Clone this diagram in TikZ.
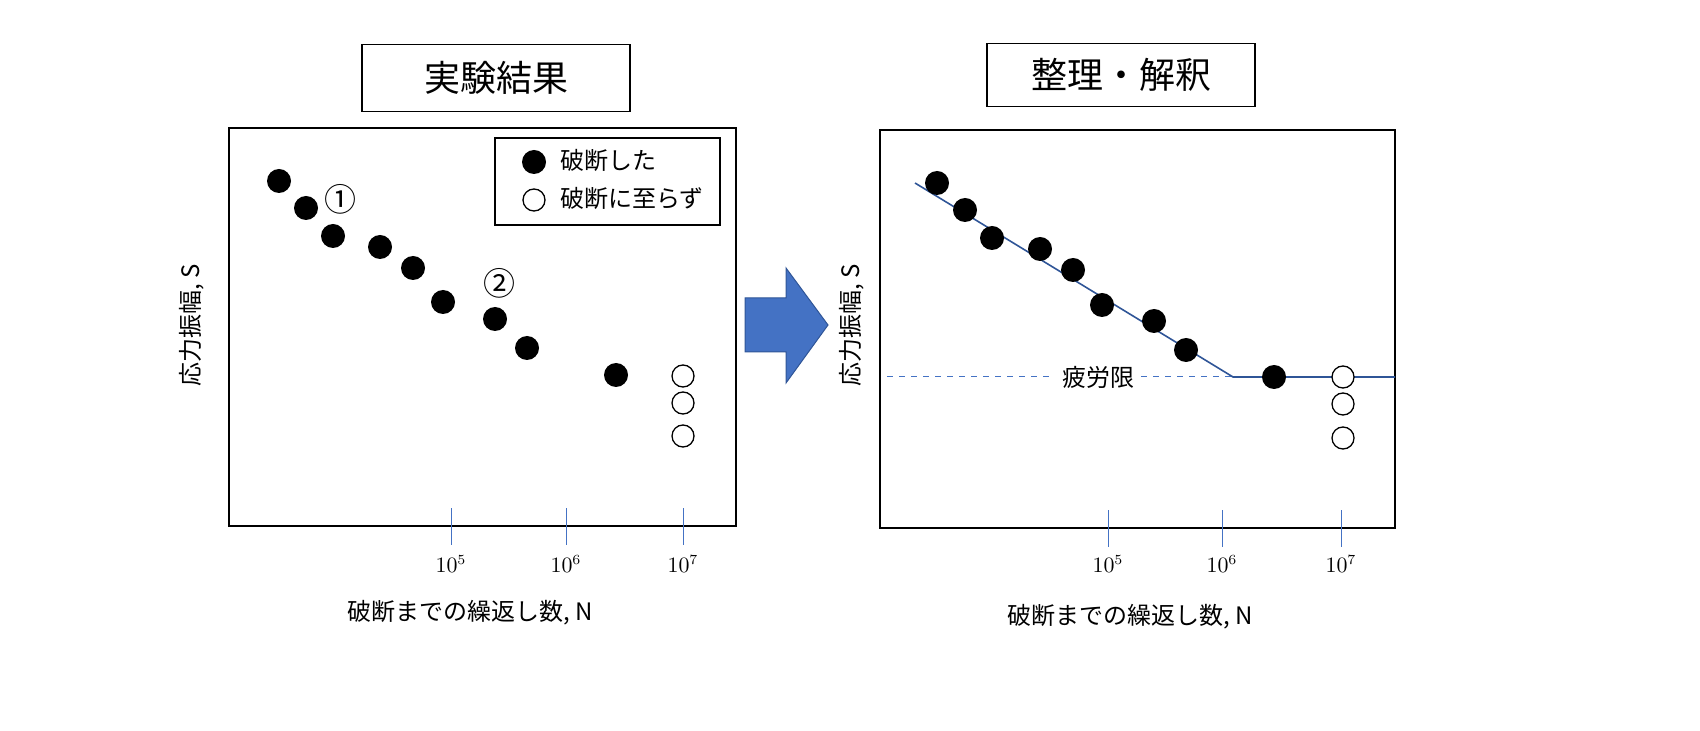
\documentclass[tikz,border=0pt]{standalone}
\usepackage{fontspec}
\newfontfamily\jp{Noto Sans CJK JP}
\definecolor{tickblue}{RGB}{68,114,196}
\definecolor{linblue}{RGB}{47,85,151}
\tikzset{
  frame/.style={draw, line width=1pt},
  title/.style={draw, line width=0.6pt, font=\jp\fontsize{18}{20}\selectfont},
  fdot/.style={circle, fill=black, inner sep=0pt, minimum size=12pt},
  odot/.style={circle, draw, line width=0.65pt, inner sep=0pt, minimum size=11pt},
  lab/.style={font=\jp\fontsize{12}{14}\selectfont},
  tick/.style={tickblue, line width=0.5pt},
  expo/.style={font=\fontsize{10.5}{12}\selectfont}
}
\begin{document}
\begin{tikzpicture}[x=0.5pt, y=-0.5pt]
  \useasboundingbox (0,0) rectangle (1700,731);

  % 実験結果
  \node[title, minimum width=134pt, minimum height=33.5pt] (t1) at (496,78) {実験結果};
  \draw[frame] (229,128) rectangle (736,526);
  \draw[line width=0.75pt] (495,138) rectangle (720,225);
  \node[fdot] (lg1) at (534,162) {};
  \node[lab, right] (lgt1) at (553,160) {破断した};
  \node[odot] (lg2) at (534,200) {};
  \node[lab, right] (lgt2) at (553,198) {破断に至らず};
  \foreach \x/\y [count=\i] in {279/181,306/208,333/236,380/247,413/268,443/302,495/319,527/348,616/375}
    \node[fdot] (a\i) at (\x,\y) {};
  \foreach \y [count=\i] in {376,403,436}
    \node[odot] (ao\i) at (683,\y) {};
  \node[font=\jp\fontsize{16}{18}\selectfont] (n1) at (340,199) {①};
  \node[font=\jp\fontsize{16}{18}\selectfont] (n2) at (499,283) {②};
  \foreach \x/\e in {451/5,566/6,683/7} {
    \draw[tick] (\x,508) -- (\x,545);
    \node[expo] at (\x,564) {$10^{\e}$};
  }
  \node[lab, rotate=90] (ya) at (192,325) {応力振幅, S};
  \node[lab] (xa) at (470,613) {破断までの繰返し数, N};

  % 矢印
  \draw[fill=tickblue, draw=linblue, line width=0.5pt]
    (745,298) -- (786,298) -- (786,268) -- (828,325) -- (786,383) -- (786,352) -- (745,352) -- cycle;

  % 整理・解釈
  \node[title, minimum width=134pt, minimum height=31.5pt] (t2) at (1121,75) {整理・解釈};
  \draw[frame] (880,130) rectangle (1395,528);
  \coordinate (s0) at (915,183);
  \coordinate (k) at (1233,377);
  \coordinate (s1) at (1395,377);
  \node[lab] (fl) at (1098,377) {疲労限};
  \draw[tickblue, dashed, line width=0.5pt] (887,377) -- (fl.west);
  \draw[tickblue, dashed, line width=0.5pt] (fl.east) -- (k);
  \draw[linblue, line width=0.8pt] (s0) -- (k) -- (s1);
  \foreach \x/\y [count=\i] in {937/183,965/210,992/238,1040/249,1073/270,1102/305,1154/321,1186/350,1274/377}
    \node[fdot] (b\i) at (\x,\y) {};
  \foreach \y [count=\i] in {377,404,438}
    \node[odot, fill=white] (bo\i) at (1343,\y) {};
  \foreach \x/\e in {1108/5,1222/6,1341/7} {
    \draw[tick] (\x,510) -- (\x,547);
    \node[expo] at (\x,564) {$10^{\e}$};
  }
  \node[lab, rotate=90] (yb) at (852,325) {応力振幅, S};
  \node[lab] (xb) at (1130,617) {破断までの繰返し数, N};
\end{tikzpicture}
\end{document}
